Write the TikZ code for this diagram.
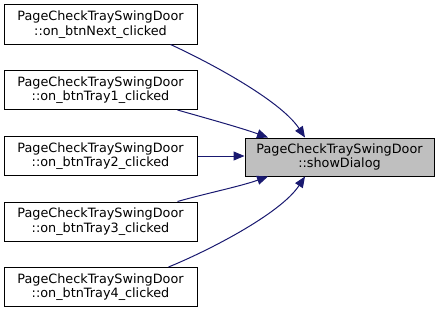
\documentclass[tikz,border=0pt]{standalone}
\usepackage{fontspec}
\setmainfont{DejaVu Sans}
\usepackage{xcolor}
\usepackage{tikz}
\usetikzlibrary{arrows.meta}
\definecolor{edgeblue}{HTML}{191970}
\tikzset{>={Triangle[length=11pt,width=9pt]}}

\begin{document}
\begin{tikzpicture}[x=1pt, y=1pt]
\tikzset{fn/.style={draw=black, line width=1pt, fill=white, minimum width=193pt, minimum height=39pt, inner sep=0pt, align=center, font=\fontsize{12.8}{14.5}\selectfont}}
\tikzset{calls/.style={->, draw=edgeblue, line width=1pt}}
    \useasboundingbox (0,0) rectangle (443,-313);

    \node[fn] (Next) at (100.5,-24.5) {PageCheckTraySwingDoor\\::on\_btnNext\_clicked};
    \node[fn] (Tray1) at (100.5,-90) {PageCheckTraySwingDoor\\::on\_btnTray1\_clicked};
    \node[fn] (Tray2) at (100.5,-156) {PageCheckTraySwingDoor\\::on\_btnTray2\_clicked};
    \node[fn] (Tray3) at (100.5,-221.5) {PageCheckTraySwingDoor\\::on\_btnTray3\_clicked};
    \node[fn] (Tray4) at (100.5,-287) {PageCheckTraySwingDoor\\::on\_btnTray4\_clicked};

    \node[fn, fill=gray!50, minimum width=189pt, minimum height=38pt] (Show) at (339.5,-157) {PageCheckTraySwingDoor\\::showDialog};

% % % % % % % % % % % % % % % % % % %
    \draw[calls] ([xshift=-27pt]Next.south east) .. controls +(35,-16) and +(-25,38) .. ([xshift=-34.5pt]Show.north);
    \draw[calls] ([xshift=-20pt]Tray1.south east) .. controls +(28,-8) and +(-28,10) .. ([xshift=-71.5pt]Show.north);
    \draw[calls] (Tray2.east) -- (Tray2.east -| Show.west);
    \draw[calls] ([xshift=-20pt]Tray3.north east) .. controls +(28,8) and +(-28,-10) .. ([xshift=-71.5pt]Show.south);
    \draw[calls] ([xshift=-29pt]Tray4.north east) .. controls +(37,15) and +(-25,-38) .. ([xshift=-34.5pt]Show.south);

\end{tikzpicture}
\end{document}
